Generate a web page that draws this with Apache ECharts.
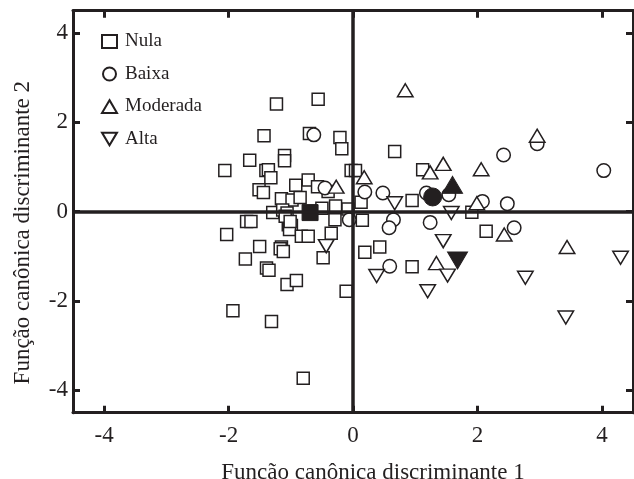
<!DOCTYPE html>
<html><head><meta charset="utf-8">
<script src="https://cdn.jsdelivr.net/npm/echarts@6/dist/echarts.min.js"></script>
<style>html,body{margin:0;padding:0;background:#fff}#c{width:634px;height:479px}</style>
</head><body><div id="c"></div>
<script>
const tickValues = [-4, -2, 0, 2, 4];
const groupNames = ['Nula', 'Baixa', 'Moderada', 'Alta'];

const nula = [
  [-1.23, 2.41], [-0.56, 2.52], [-1.43, 1.70], [-0.70, 1.75], [-0.21, 1.66], [-0.18, 1.41],
  [-1.10, 1.26], [-1.10, 1.14], [-1.66, 1.15], [-2.06, 0.92], [-1.40, 0.92], [-1.36, 0.94],
  [-1.32, 0.76], [-1.51, 0.49], [-1.44, 0.43], [-0.72, 0.71], [-0.92, 0.59], [-0.03, 0.92],
  [0.04, 0.92], [-0.40, 0.45], [-0.57, 0.56], [-1.15, 0.29], [-0.98, 0.26], [-0.85, 0.32],
  [-1.29, -0.02], [-1.13, 0.04], [-1.06, -0.03], [-0.50, 0.08], [-0.28, 0.13], [-0.08, 0.06],
  [-0.29, -0.18], [-1.71, -0.22], [-1.64, -0.22], [-2.03, -0.51], [-1.04, -0.29], [-0.99, -0.31],
  [-1.02, -0.40], [-0.83, -0.55], [-0.72, -0.55], [-0.35, -0.48], [-1.50, -0.78], [-1.15, -0.79],
  [-1.17, -0.83], [-1.12, -0.89], [-1.73, -1.06], [-0.48, -1.03], [-1.39, -1.26], [-1.35, -1.31],
  [-1.06, -1.63], [-0.91, -1.54], [-0.11, -1.78], [-1.93, -2.22], [-1.31, -2.46], [-0.80, -3.73],
  [0.67, 1.35], [1.12, 0.94], [0.95, 0.25], [0.13, 0.21], [0.15, -0.19], [1.91, -0.01],
  [2.14, -0.44], [0.19, -0.91], [0.43, -0.79], [0.95, -1.23], [-1.09, -0.10], [-1.01, -0.22]
];
const baixa = [
  [-0.63, 1.72], [-0.45, 0.53], [0.19, 0.44], [0.48, 0.42], [-0.06, -0.18], [0.65, -0.18],
  [0.58, -0.36], [1.24, -0.24], [1.18, 0.42], [1.54, 0.38], [2.08, 0.23], [2.48, 0.18],
  [2.59, -0.36], [2.42, 1.27], [2.96, 1.52], [4.03, 0.92], [0.59, -1.22]
];
const moderada = [
  [-0.27, 0.56], [0.84, 2.72], [0.18, 0.77], [1.24, 0.88], [1.45, 1.07], [2.06, 0.95],
  [2.96, 1.70], [1.99, 0.19], [2.43, -0.51], [1.34, -1.15], [3.44, -0.79]
];
const alta = [
  [-0.43, -0.77], [0.67, 0.19], [1.58, -0.03], [1.45, -0.66], [0.38, -1.44], [1.52, -1.43],
  [1.20, -1.78], [2.77, -1.48], [3.42, -2.37], [4.30, -1.03]
];
const centroidNula = [[-0.69, -0.02]];
const centroidBaixa = [[1.28, 0.33]];
const centroidModerada = [[1.60, 0.60]];
const centroidAlta = [[1.68, -1.09]];

const INK = '#231f20';
const FONT = '"Liberation Serif", "Times New Roman", serif';
const DOWN_TRI = 'path://M0,0L20,0L10,17Z';
const UP_TRI = 'path://M10,0L20,17L0,17Z';

function frameAxis(pos, isX, showLabels, extra) {
  return Object.assign({
    type: 'value', position: pos, min: -4.5, max: 4.5,
    axisLine: { show: true, onZero: false, lineStyle: { color: INK, width: 3 } },
    axisTick: { show: true, inside: true, length: 7, customValues: tickValues, lineStyle: { color: INK, width: 3 } },
    axisLabel: { show: showLabels, customValues: tickValues, color: INK, fontFamily: FONT, fontSize: 23, margin: isX ? 12 : 5 },
    splitLine: { show: false }
  }, extra || {});
}

function openSeries(name, data, symbol, size) {
  return {
    name, type: 'scatter', data, symbol, symbolSize: size, z: 3,
    itemStyle: { color: '#fff', borderColor: INK, borderWidth: 1.5, opacity: 1 },
    emphasis: { disabled: true }
  };
}
function filledSeries(name, data, symbol, size) {
  return {
    name, type: 'scatter', data, symbol, symbolSize: size, z: 4,
    itemStyle: { color: INK, borderColor: INK, borderWidth: 1, opacity: 1 },
    emphasis: { disabled: true }
  };
}

const chart = echarts.init(document.getElementById('c'), null, { renderer: 'canvas' });
chart.setOption({
  animation: false,
  backgroundColor: '#fff',
  grid: { left: 73, right: 1, top: 10.7, bottom: 66.3, outerBoundsMode: 'none', containLabel: false },
  legend: {
    data: groupNames, orient: 'vertical', left: 101, top: 32, padding: 0,
    itemGap: 13.5, itemWidth: 15, itemHeight: 13,
    textStyle: { color: INK, fontFamily: FONT, fontSize: 19, padding: [0, 0, 0, 3] },
    selectedMode: false
  },
  xAxis: [
    frameAxis('bottom', true, true, {
      name: 'Função canônica discriminante 1', nameLocation: 'middle', nameGap: 49,
      nameTextStyle: { color: INK, fontFamily: FONT, fontSize: 23, padding: [0, 0, 0, 40] }
    }),
    frameAxis('top', true, false)
  ],
  yAxis: [
    frameAxis('left', false, true, {
      name: 'Função canônica discriminante 2', nameLocation: 'middle', nameGap: 39,
      nameTextStyle: { color: INK, fontFamily: FONT, fontSize: 23, padding: [0, 42, 0, 0] }
    }),
    frameAxis('right', false, false)
  ],
  series: [
    {
      name: 'zero', type: 'scatter', data: [], z: 1, silent: true,
      markLine: {
        silent: true, symbol: 'none', animation: false,
        label: { show: false },
        lineStyle: { color: INK, width: 3.5, type: 'solid' },
        emphasis: { disabled: true },
        data: [{ xAxis: 0 }, { yAxis: 0 }]
      }
    },
    openSeries('Nula', nula, 'rect', 12),
    openSeries('Baixa', baixa, 'circle', 13.5),
    openSeries('Moderada', moderada, UP_TRI, [15.5, 13]),
    openSeries('Alta', alta, DOWN_TRI, [15.5, 13]),
    filledSeries('Nula centroide', centroidNula, 'rect', 16),
    filledSeries('Baixa centroide', centroidBaixa, 'circle', 18),
    filledSeries('Moderada centroide', centroidModerada, UP_TRI, [20, 17]),
    filledSeries('Alta centroide', centroidAlta, DOWN_TRI, [20, 17])
  ]
});
</script>
</body></html>
